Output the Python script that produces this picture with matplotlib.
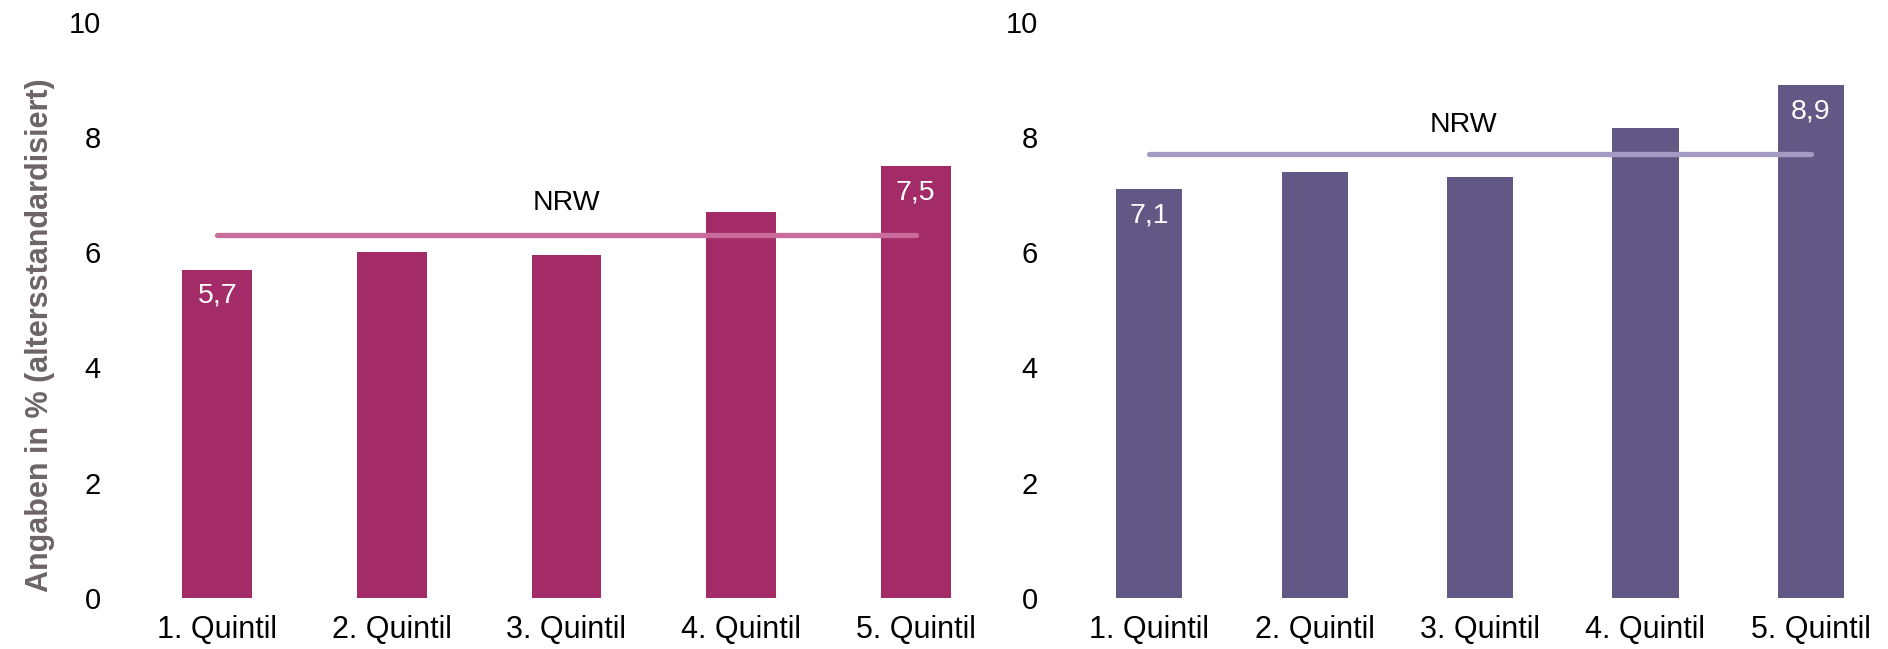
import matplotlib
matplotlib.use("Agg")
import matplotlib.pyplot as plt

plt.rcParams['font.family'] = ['Liberation Sans', 'DejaVu Sans']

categories = ["1. Quintil", "2. Quintil", "3. Quintil", "4. Quintil", "5. Quintil"]
left_values = [5.7, 6.0, 5.95, 6.7, 7.5]
right_values = [7.1, 7.4, 7.3, 8.15, 8.9]
left_nrw = 6.3
right_nrw = 7.7
left_labels = {0: "5,7", 4: "7,5"}
right_labels = {0: "7,1", 4: "8,9"}
yticks = [0, 2, 4, 6, 8, 10]
ylabel = "Angaben in % (altersstandardisiert)"

W, H = 1888, 649
fig = plt.figure(figsize=(W / 100, H / 100), dpi=100)

def px_ax(x0, x1, ytop, ybot):
    return fig.add_axes([x0 / W, (H - ybot) / H, (x1 - x0) / W, (ybot - ytop) / H])

axL = px_ax(130, 1003, 21.7, 598)
axR = px_ax(1066.7, 1877, 21.7, 598)

panels = [
    (axL, left_values, left_nrw, left_labels, "#A22B68", "#C96C9C", (-0.5, 4.5), (2.0, 6.86)),
    (axR, right_values, right_nrw, right_labels, "#615885", "#A39BC3", (-0.5, 4.4), (1.9, 8.2)),
]

for ax, vals, nrw, labels, bc, lc, xlim, nrwpos in panels:
    x = list(range(len(categories)))
    ax.bar(x, vals, width=0.4, color=bc, zorder=2)
    ax.plot([x[0], x[-1]], [nrw, nrw], color=lc, lw=3.8, solid_capstyle="round", zorder=3)
    ax.text(nrwpos[0], nrwpos[1], "NRW", ha="center", va="center", fontsize=20.5, color="black")
    for i, t in labels.items():
        ax.annotate(t, (x[i], vals[i]), xytext=(0, -19), textcoords="offset points",
                    ha="center", va="center", fontsize=20.5, color="white", zorder=4)
    ax.set_xlim(*xlim)
    ax.set_ylim(0, 10)
    ax.set_yticks(yticks)
    ax.set_yticklabels([str(v) for v in yticks])
    ax.set_xticks(x)
    ax.set_xticklabels(categories)
    for s in ax.spines.values():
        s.set_visible(False)
    ax.tick_params(axis="y", length=0, pad=21, labelsize=21)
    ax.tick_params(axis="x", length=0, pad=12, labelsize=22)

fig.text(40 / W, (H - 335) / H, ylabel, rotation=90, ha="center", va="center",
         fontsize=22, fontweight="bold", color="#6D6468")

fig.savefig("out.png", dpi=100)
